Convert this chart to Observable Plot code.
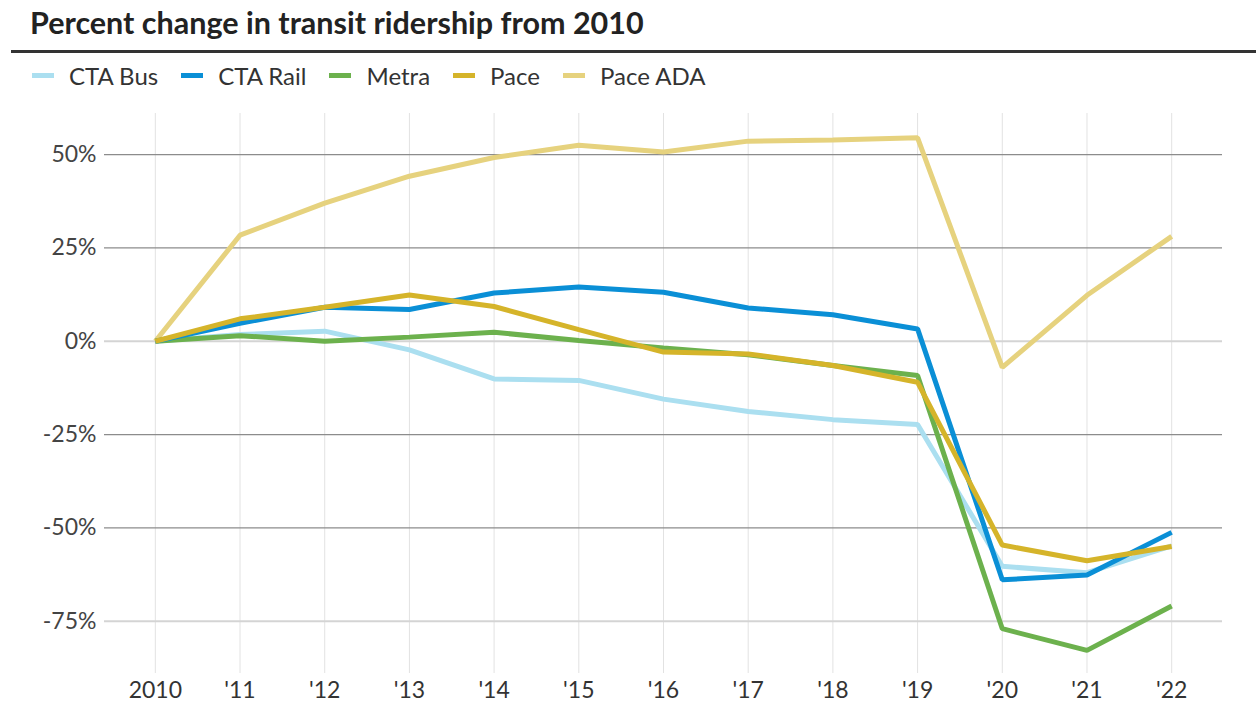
<!DOCTYPE html>
<html>
<head>
<meta charset="utf-8">
<script src="https://cdn.jsdelivr.net/npm/d3@7"></script>
<script src="https://cdn.jsdelivr.net/npm/@observablehq/plot@0.6"></script>
<style>
  html, body { margin: 0; padding: 0; background: #fff; }
  body { width: 1256px; height: 704px; overflow: hidden; font-family: Lato, "Noto Sans", sans-serif; color: #333; position: relative; }
  #title { position: absolute; left: 30px; top: 4px; font-size: 30.5px; font-weight: 700; color: #222; white-space: nowrap; line-height: 36px; }
  #rule { position: absolute; left: 11px; right: 0; top: 50px; height: 0; border-top: 3px solid #333; }
  #legend { position: absolute; left: 32px; top: 60px; height: 30px; display: flex; align-items: center; font-size: 24px; color: #333; white-space: nowrap; }
  .item { display: flex; align-items: center; margin-right: 23px; }
  .sw { width: 22px; height: 5px; margin-right: 15px; }
  #chart { position: absolute; left: 0; top: 100px; }
  #chart svg { overflow: visible; }
</style>
</head>
<body>
<div id="title">Percent change in transit ridership from 2010</div>
<div id="rule"></div>
<div id="legend"></div>
<div id="chart"></div>
<script>
const years = [2010, 2011, 2012, 2013, 2014, 2015, 2016, 2017, 2018, 2019, 2020, 2021, 2022];
const yearLabels = ["2010", "'11", "'12", "'13", "'14", "'15", "'16", "'17", "'18", "'19", "'20", "'21", "'22"];
const seriesNames = ["CTA Bus", "CTA Rail", "Metra", "Pace", "Pace ADA"];
const seriesColors = ["#abdff0", "#0a8fd6", "#6cb14d", "#d5b42a", "#e6d27e"];
const ctaBus  = [0, 1.8, 2.7, -2.3, -10.1, -10.5, -15.5, -18.8, -21.0, -22.3, -60.3, -62.0, -54.8];
const ctaRail = [0, 4.8, 9.1, 8.5, 12.9, 14.5, 13.1, 8.9, 7.1, 3.3, -63.9, -62.6, -51.2];
const metra   = [0, 1.5, 0.0, 1.1, 2.4, 0.2, -1.8, -3.6, -6.5, -9.2, -77.0, -82.8, -70.9];
const pace    = [0, 6.0, 9.1, 12.4, 9.3, 3.1, -2.9, -3.4, -6.5, -11.0, -54.6, -58.8, -55.0];
const paceADA = [0, 28.4, 37.0, 44.2, 49.2, 52.5, 50.7, 53.6, 53.9, 54.5, -7.0, 12.3, 28.1];
const yTicks = [50, 25, 0, -25, -50, -75];
const darkGrid = [50, 25, -25, -50];
const lightGrid = [0, -75];

const valuesBySeries = {"CTA Bus": ctaBus, "CTA Rail": ctaRail, "Metra": metra, "Pace": pace, "Pace ADA": paceADA};
const drawOrder = ["Pace ADA", "CTA Bus", "Metra", "CTA Rail", "Pace"];
const rows = [];
for (const name of drawOrder) {
  valuesBySeries[name].forEach((v, i) => rows.push({series: name, year: years[i], value: v}));
}

// legend
const legend = document.getElementById("legend");
seriesNames.forEach((n, i) => {
  const it = document.createElement("div"); it.className = "item";
  const sw = document.createElement("div"); sw.className = "sw"; sw.style.background = seriesColors[i];
  const tx = document.createElement("span"); tx.textContent = n;
  it.appendChild(sw); it.appendChild(tx); legend.appendChild(it);
});

const labelMap = new Map(years.map((y, i) => [y, yearLabels[i]]));

const chart = Plot.plot({
  width: 1256,
  height: 604,
  marginLeft: 104,
  marginRight: 34,
  marginTop: 13,
  marginBottom: 31,
  style: {fontFamily: "Lato, 'Noto Sans', sans-serif", fontSize: "23px", color: "#444", background: "#fff", overflow: "visible"},
  x: {domain: [2009.4, 2022.6]},
  y: {domain: [-89, 61]},
  color: {domain: seriesNames, range: seriesColors},
  marks: [
    Plot.ruleX(years, {x: d => d, y1: -89, y2: 61, stroke: "#e2e2e2", strokeWidth: 1}),
    Plot.ruleY(lightGrid, {stroke: "#d4d4d4", strokeWidth: 2}),
    Plot.ruleY(darkGrid, {stroke: "#8c8c8c", strokeWidth: 1.2}),
    Plot.axisY({ticks: yTicks, tickSize: 0, tickPadding: 8, tickFormat: d => d + "%", fontSize: 23, fill: "#444", label: null}),
    Plot.axisX({ticks: years, tickSize: 0, tickPadding: 8, tickFormat: d => labelMap.get(d), fontSize: 23, fill: "#333", label: null}),
    Plot.line(rows, {x: "year", y: "value", z: "series", stroke: "series", strokeWidth: 5, strokeLinejoin: "miter", strokeLinecap: "butt"})
  ]
});
document.getElementById("chart").appendChild(chart);
</script>
</body>
</html>
